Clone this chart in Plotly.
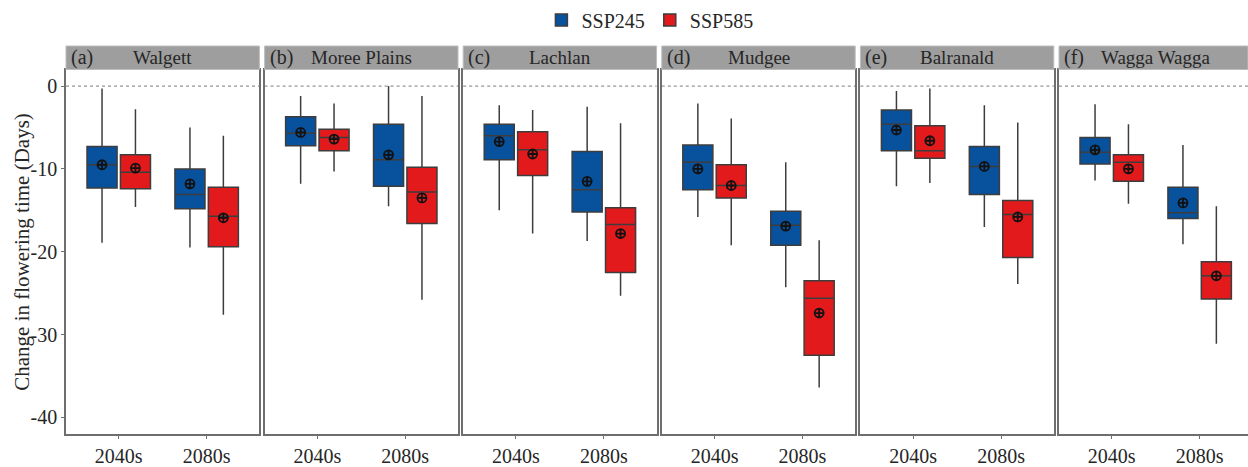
import plotly.graph_objects as go

# ---------------- data ----------------
sites = ["Walgett", "Moree Plains", "Lachlan", "Mudgee", "Balranald", "Wagga Wagga"]
letters = ["(a)", "(b)", "(c)", "(d)", "(e)", "(f)"]
periods = ["2040s", "2080s"]
scenarios = ["SSP245", "SSP585"]

# per site: [2040s, 2080s]
ssp245_upper = [[-0.3, -5.0], [-1.2, 0.0], [-2.3, -2.5], [-2.1, -9.2], [-0.6, -2.3], [-2.2, -7.1]]
ssp245_q3 = [[-7.3, -10.0], [-3.7, -4.6], [-4.6, -7.9], [-7.1, -15.1], [-2.9, -7.3], [-6.2, -12.2]]
ssp245_median = [[-9.5, -13.1], [-5.7, -8.9], [-6.0, -12.5], [-9.2, -16.8], [-4.6, -9.7], [-8.0, -15.3]]
ssp245_mean = [[-9.5, -11.8], [-5.6, -8.3], [-6.7, -11.5], [-10.0, -16.9], [-5.3, -9.7], [-7.7, -14.1]]
ssp245_q1 = [[-12.3, -14.8], [-7.2, -12.1], [-8.9, -15.2], [-12.5, -19.2], [-7.8, -13.1], [-9.4, -16.0]]
ssp245_lower = [[-18.9, -19.5], [-11.8, -14.5], [-15.0, -18.7], [-15.8, -24.3], [-12.1, -17.0], [-11.4, -19.1]]

ssp585_upper = [[-2.8, -6.0], [-2.1, -1.2], [-2.9, -4.5], [-3.9, -18.6], [-0.3, -4.4], [-4.6, -14.5]]
ssp585_q3 = [[-8.3, -12.2], [-5.2, -9.8], [-5.5, -14.7], [-9.5, -23.5], [-4.8, -13.8], [-8.3, -21.2]]
ssp585_median = [[-10.4, -15.7], [-6.2, -12.8], [-7.7, -16.7], [-12.0, -25.6], [-7.8, -15.5], [-9.2, -22.9]]
ssp585_mean = [[-9.9, -15.9], [-6.4, -13.5], [-8.2, -17.8], [-12.0, -27.4], [-6.6, -15.8], [-10.0, -22.9]]
ssp585_q1 = [[-12.4, -19.4], [-7.8, -16.6], [-10.8, -22.5], [-13.5, -32.5], [-8.7, -20.7], [-11.5, -25.7]]
ssp585_lower = [[-14.6, -27.6], [-10.3, -25.8], [-17.8, -25.3], [-19.2, -36.4], [-11.7, -23.9], [-14.2, -31.1]]

y_ticks = [0, -10, -20, -30, -40]
y_ticktext = ["0", "-10", "-20", "-30", "-40"]
y_range = [-42, 2]
y_title = "Change in flowering time (Days)"

# ---------------- style ----------------
colors = {"SSP245": "#08519c", "SSP585": "#e31a1c"}
FONT = "Liberation Serif"
TXT = "#262626"
W, H = 1248, 467
ML, MR, MT, MB = 66, 0, 44, 22
PW = W - ML - MR
PH = H - MT - MB
panel_px = 193.4
pitch_px = 198.6
strip_px = 24.3
ydom_top = 1 - strip_px / PH
cat_span = 2.2  # ggplot discrete expansion: -0.6 .. 1.6

stats = {
    "SSP245": (ssp245_lower, ssp245_q1, ssp245_median, ssp245_q3, ssp245_upper, ssp245_mean),
    "SSP585": (ssp585_lower, ssp585_q1, ssp585_median, ssp585_q3, ssp585_upper, ssp585_mean),
}

fig = go.Figure()
layout = {}
shapes = []
annotations = []

for i, site in enumerate(sites):
    n = i + 1
    xa = "x" if n == 1 else f"x{n}"
    ya = "y" if n == 1 else f"y{n}"
    for sc in scenarios:
        lo, q1, md, q3, up, mn = stats[sc]
        fig.add_trace(go.Box(
            x=periods, q1=q1[i], median=md[i], q3=q3[i],
            lowerfence=lo[i], upperfence=up[i],
            name=sc, legendgroup=sc, showlegend=(i == 0),
            offsetgroup=sc, fillcolor=colors[sc],
            line=dict(color="#3d3d3d", width=1.5), whiskerwidth=0,
            boxpoints=False, xaxis=xa, yaxis=ya,
        ))
        fig.add_trace(go.Scatter(
            x=periods, y=mn[i], mode="markers", offsetgroup=sc,
            legendgroup=sc, showlegend=False,
            marker=dict(symbol="circle-cross-open", size=9, color="#111111",
                        line=dict(width=1.8, color="#111111")),
            xaxis=xa, yaxis=ya, hoverinfo="skip",
        ))

    left = i * pitch_px / PW
    right = min(1.0, left + panel_px / PW)
    width_px = (right - left) * PW
    xr = [-0.6, -0.6 + cat_span * width_px / panel_px]
    key_x = "xaxis" if n == 1 else f"xaxis{n}"
    key_y = "yaxis" if n == 1 else f"yaxis{n}"
    layout[key_x] = dict(
        domain=[left, right], range=xr, type="category",
        categoryorder="array", categoryarray=periods,
        showline=True, linecolor="#6e6e6e", linewidth=1.5, mirror=True,
        ticks="outside", ticklen=3, tickcolor="#6e6e6e", showgrid=False,
        zeroline=False, anchor=ya,
        tickfont=dict(family=FONT, size=20, color=TXT),
    )
    layout[key_y] = dict(
        domain=[0, ydom_top], range=y_range, tickvals=y_ticks, ticktext=y_ticktext,
        showticklabels=(n == 1), showline=True, linecolor="#6e6e6e",
        linewidth=1.5, mirror=(n != 6), ticks="outside" if n == 1 else "",
        ticklen=3, tickcolor="#6e6e6e",
        showgrid=False, zeroline=False, anchor=xa,
        tickfont=dict(family=FONT, size=20, color=TXT),
    )
    # dashed zero reference line
    shapes.append(dict(type="line", xref=f"{xa} domain", yref=ya, x0=0, x1=1, y0=0, y1=0,
                       line=dict(color="#7a7a7a", width=1, dash="3px,3px"), layer="below"))
    # strip
    shapes.append(dict(type="rect", xref="paper", yref="paper", x0=left, x1=right,
                       y0=ydom_top, y1=1.0, fillcolor="#9e9e9e",
                       line=dict(color="#bdbdbd", width=1)))
    annotations.append(dict(text=letters[i], xref="paper", yref="paper",
                            x=left + 3 / PW, y=(ydom_top + 1) / 2, xanchor="left", yanchor="middle",
                            showarrow=False, font=dict(family=FONT, size=20, color=TXT)))
    annotations.append(dict(text=site, xref="paper", yref="paper",
                            x=left + panel_px / 2 / PW, y=(ydom_top + 1) / 2,
                            xanchor="center", yanchor="middle",
                            showarrow=False, font=dict(family=FONT, size=19, color=TXT)))

# y-axis title
annotations.append(dict(text=y_title, xref="paper", yref="paper", x=(22 - ML) / PW,
                        y=ydom_top / 2, xanchor="center", yanchor="middle", textangle=-90,
                        showarrow=False, font=dict(family=FONT, size=21, color=TXT)))

fig.update_layout(
    **layout,
    width=W, height=H,
    font=dict(family=FONT, color=TXT),
    margin=dict(l=ML, r=MR, t=MT, b=MB, pad=0),
    plot_bgcolor="white", paper_bgcolor="white",
    boxmode="group", boxgap=0.24, boxgroupgap=0.1,
    scattermode="group", scattergap=0.24,
    shapes=shapes, annotations=annotations,
    legend=dict(orientation="h", x=0.494, xanchor="center", y=1 + 27 / PH, yanchor="middle",
                font=dict(family=FONT, size=20, color=TXT),
                itemwidth=30, bgcolor="rgba(0,0,0,0)"),
    showlegend=True,
)

fig.write_html("out.html")
